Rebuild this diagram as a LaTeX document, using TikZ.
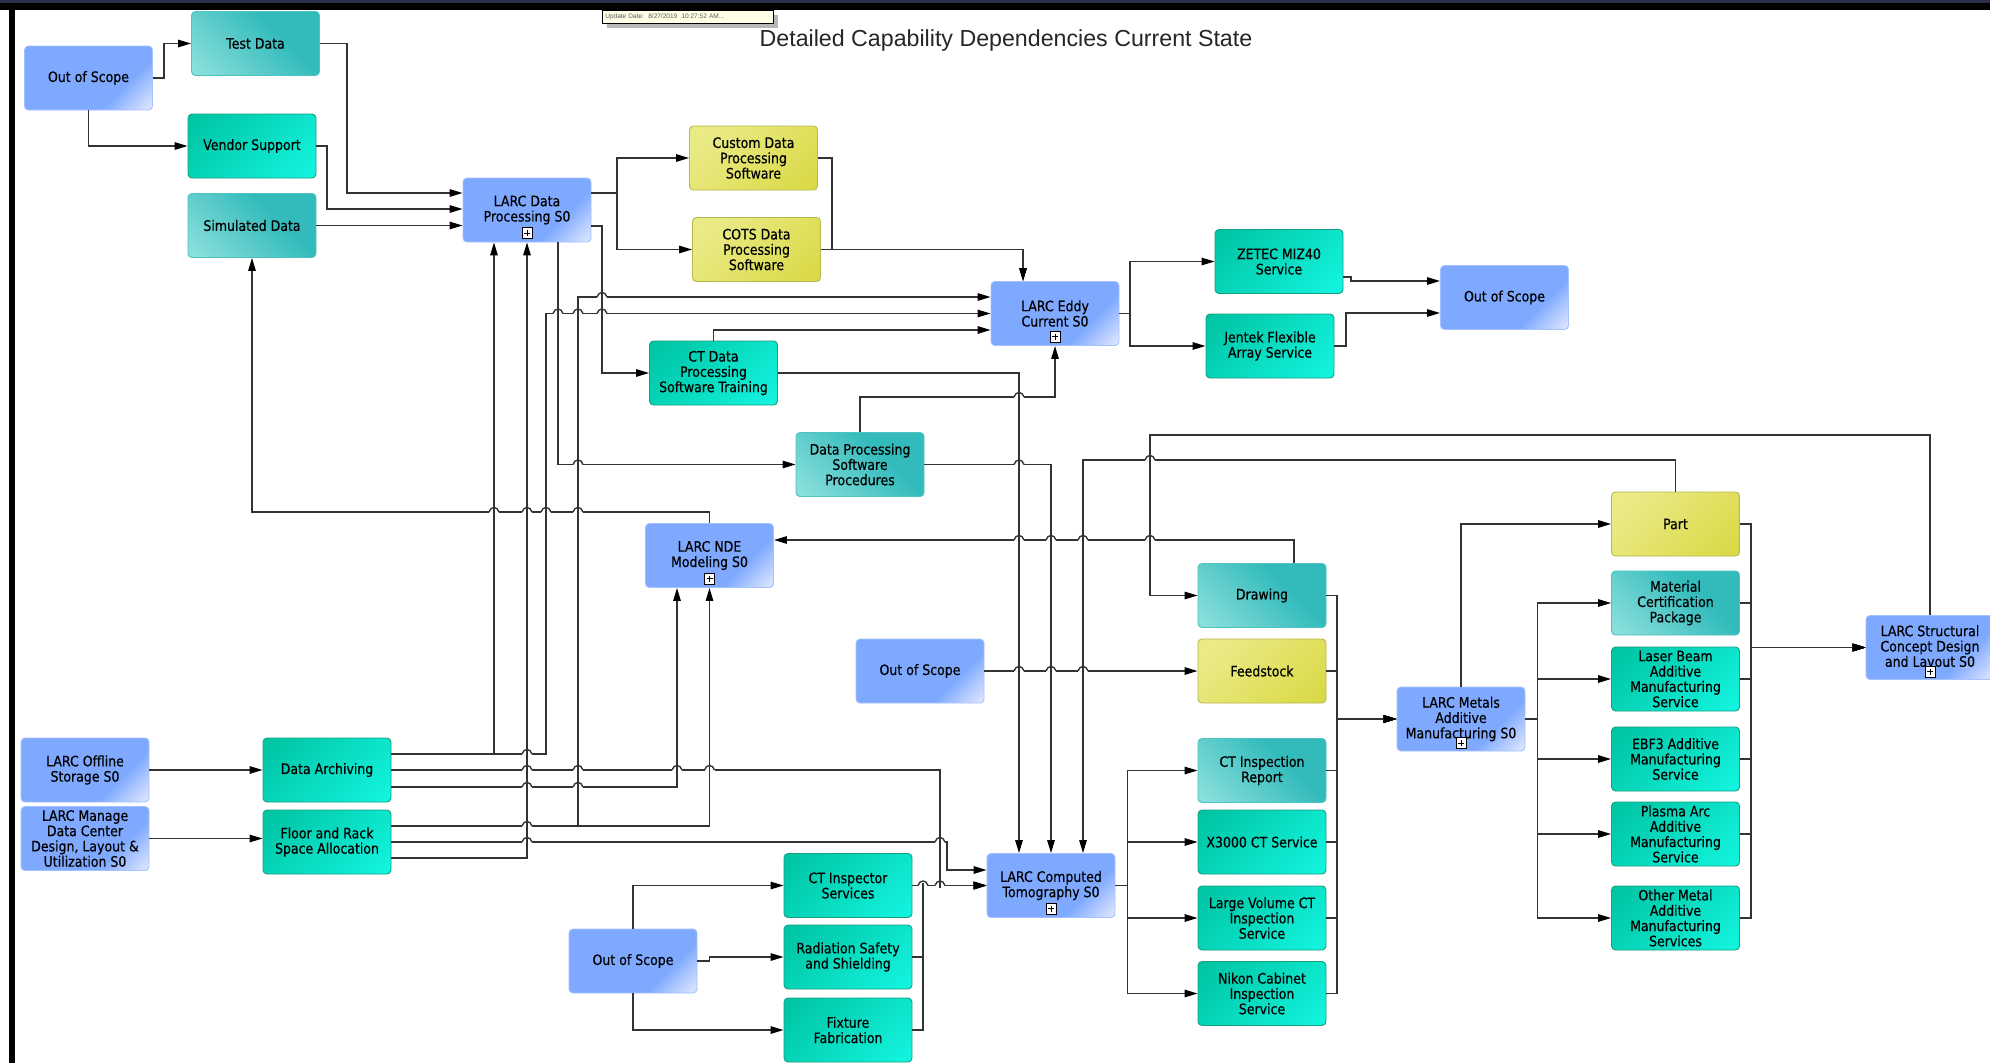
\documentclass[tikz,border=0pt]{standalone}
\usepackage{fontspec}
\setmainfont{DejaVu Sans}[FakeStretch=0.87]
\newfontfamily\boxfam{DejaVu Sans}[FakeStretch=0.87, BoldFont={DejaVu Sans}, BoldFeatures={FakeBold=0.35}]
\newfontfamily\titlefont{Liberation Sans}
\usetikzlibrary{arrows.meta}

\definecolor{linec}{HTML}{333333}
\definecolor{bluebase}{HTML}{7EA9FF}
\definecolor{bluelight}{HTML}{D8E2FF}
\definecolor{blueedge}{HTML}{A3C0FF}
\definecolor{tealDtop}{HTML}{00C6A6}
\definecolor{tealDbot}{HTML}{12F2DC}
\definecolor{tealDedge}{HTML}{17A080}
\definecolor{tealLtop}{HTML}{33BBBC}
\definecolor{tealLbot}{HTML}{8ADFDB}
\definecolor{tealLedge}{HTML}{4CC3C0}
\definecolor{yeltop}{HTML}{EAEA86}
\definecolor{yelbot}{HTML}{DADA48}
\definecolor{yeledge}{HTML}{B8B84C}
\definecolor{navybar}{HTML}{2A2F4A}
\definecolor{tipfill}{HTML}{FFFFE8}

\pgfdeclareverticalshading{bluegloss}{100bp}{color(0bp)=(bluelight); color(17bp)=(bluelight); color(34bp)=(bluebase); color(100bp)=(bluebase)}
\pgfdeclareverticalshading{tealDgloss}{100bp}{color(0bp)=(tealDbot); color(20bp)=(tealDbot); color(80bp)=(tealDtop); color(100bp)=(tealDtop)}
\pgfdeclareverticalshading{tealLgloss}{100bp}{color(0bp)=(tealLbot); color(18bp)=(tealLbot); color(62bp)=(tealLtop); color(100bp)=(tealLtop)}
\pgfdeclareverticalshading{yelgloss}{100bp}{color(0bp)=(yelbot); color(20bp)=(yelbot); color(75bp)=(yeltop); color(100bp)=(yeltop)}

\newcommand{\boxfont}{\boxfam\bfseries\fontsize{14.4}{15.3}\selectfont}
% small hop drawn where a horizontal connector passes over a vertical one
\newcommand{\linehop}[2]{%
  \fill[white] (#1-5,#2-1.7) rectangle (#1+5,#2+1.7);
  \draw[conn] (#1-5,#2) .. controls (#1-3.5,#2-6) and (#1+3.5,#2-6) .. (#1+5,#2);
  \draw[conn] (#1,#2-2.2) -- (#1,#2+2.2);
}

\tikzset{
  box/.style={rectangle, rounded corners=4pt, minimum width=128pt, minimum height=64pt,
    inner sep=2pt, align=center, font=\boxfont, line width=0.9pt, text=black},
  bluebox/.style={box, draw=blueedge, shade, shading=bluegloss, shading angle=45},
  tealD/.style={box, draw=tealDedge, shade, shading=tealDgloss, shading angle=45},
  tealL/.style={box, draw=tealLedge, shade, shading=tealLgloss, shading angle=-45},
  yelbox/.style={box, draw=yeledge, shade, shading=yelgloss, shading angle=45},
  plusicon/.style={draw=black, fill=white, minimum width=10pt, minimum height=11pt,
    inner sep=0pt, line width=0.8pt,
    path picture={\draw[line width=0.9pt]
      ([xshift=-3pt]path picture bounding box.center) -- ([xshift=3pt]path picture bounding box.center)
      ([yshift=-3pt]path picture bounding box.center) -- ([yshift=3pt]path picture bounding box.center);}},
  conn/.style={draw=linec, line width=1.4pt},
  arr/.style={conn, -{Triangle[length=13pt,width=7.5pt,color=black]}},
}

\begin{document}
\begin{tikzpicture}[x=1pt,y=-1pt]
\useasboundingbox (0,0) rectangle (1990,1063);
\fill[white] (0,0) rectangle (1990,1063);

% window frame
\fill[black] (0,0) rectangle (1990,10);
\fill[navybar] (0,0) rectangle (1990,3);
\fill[black] (9,10) rectangle (15,1063);

% update stamp
\fill[black!28] (607,15) rectangle (778,28);
\node[draw=black, fill=tipfill, line width=0.7pt, anchor=north west, minimum width=171pt,
  minimum height=13pt, inner sep=0pt, text width=165pt, align=left,
  font=\titlefont\fontsize{6.5}{7}\selectfont, text=black!65] (stamp) at (602,10)
  {Update Date:\ \ 8/27/2019\ \ 10:27:52 AM...};

% title
\node[font=\titlefont\fontsize{23.2}{26}\selectfont, text=black!85] (title) at (1006,41)
  {Detailed Capability Dependencies Current State};

% ---------- boxes ----------
\node[bluebox] (oosA) at (88.5,78) {Out of Scope};
\node[tealL] (testdata) at (255.5,43.5) {Test Data};
\node[tealD] (vendor) at (252,146) {Vendor Support};
\node[tealL] (simdata) at (252,225.5) {Simulated Data};
\node[bluebox] (dataproc) at (527,210) {LARC Data\\Processing S0};
\node[yelbox] (custom) at (753.5,158) {Custom Data\\Processing\\Software};
\node[yelbox] (cots) at (756.5,249.5) {COTS Data\\Processing\\Software};
\node[bluebox] (eddy) at (1055,313.5) {LARC Eddy\\Current S0};
\node[tealD] (zetec) at (1279,261.5) {ZETEC MIZ40\\Service};
\node[tealD] (jentek) at (1270,346) {Jentek Flexible\\Array Service};
\node[bluebox] (oosB) at (1504.5,297.5) {Out of Scope};
\node[tealD] (ctdpst) at (713.5,373) {CT Data\\Processing\\Software Training};
\node[tealL] (dpsp) at (860,464.5) {Data Processing\\Software\\Procedures};
\node[bluebox] (nde) at (709.5,555.5) {LARC NDE\\Modeling S0};
\node[bluebox] (oosC) at (920,671) {Out of Scope};
\node[bluebox] (ctomo) at (1051,885.5) {LARC Computed\\Tomography S0};
\node[tealD] (ctinsp) at (848,885.5) {CT Inspector\\Services};
\node[tealD] (radsafe) at (848,957) {Radiation Safety\\and Shielding};
\node[tealD] (fixture) at (848,1030) {Fixture\\Fabrication};
\node[bluebox] (oosD) at (633,961) {Out of Scope};
\node[bluebox] (offline) at (85,770) {LARC Offline\\Storage S0};
\node[bluebox] (managedc) at (85,838.5) {LARC Manage\\Data Center\\Design, Layout \&\\Utilization S0};
\node[tealD] (archiving) at (327,770) {Data Archiving};
\node[tealD] (floorrack) at (327,842) {Floor and Rack\\Space Allocation};
\node[tealL] (drawing) at (1262,595.5) {Drawing};
\node[yelbox] (feedstock) at (1262,671) {Feedstock};
\node[tealL] (ctreport) at (1262,770.5) {CT Inspection\\Report};
\node[tealD] (x3000) at (1262,842) {X3000 CT Service};
\node[tealD] (largevol) at (1262,918) {Large Volume CT\\Inspection\\Service};
\node[tealD] (nikon) at (1262,993.5) {Nikon Cabinet\\Inspection\\Service};
\node[bluebox] (metals) at (1461,719) {LARC Metals\\Additive\\Manufacturing S0};
\node[yelbox] (part) at (1675.5,524) {Part};
\node[tealL] (matcert) at (1675.5,603) {Material\\Certification\\Package};
\node[tealD] (laser) at (1675.5,679) {Laser Beam\\Additive\\Manufacturing\\Service};
\node[tealD] (ebf3) at (1675.5,759) {EBF3 Additive\\Manufacturing\\Service};
\node[tealD] (plasma) at (1675.5,834) {Plasma Arc\\Additive\\Manufacturing\\Service};
\node[tealD] (othermetal) at (1675.5,918) {Other Metal\\Additive\\Manufacturing\\Services};
\node[bluebox] (structural) at (1930,647.5) {LARC Structural\\Concept Design\\and Layout S0};

% expand markers
\node[plusicon] (dataprocplus) at ([yshift=-23pt]dataproc.center) {};
\node[plusicon] (eddyplus) at ([yshift=-23pt]eddy.center) {};
\node[plusicon] (ndeplus) at ([yshift=-23pt]nde.center) {};
\node[plusicon] (ctomoplus) at ([yshift=-23pt]ctomo.center) {};
\node[plusicon] (metalsplus) at ([yshift=-24pt]metals.center) {};
\node[plusicon] (structuralplus) at ([yshift=-24pt]structural.center) {};

% ---------- connectors ----------
\draw[arr] (oosA.east) -- ++(11,0) |- (testdata.west);
\draw[arr] (oosA.south) |- (vendor.west);
\draw[arr] (testdata.east) -| (347,193) -- (dataproc.west |- 0,193);
\draw[arr] (vendor.east) -| (327,209) -- (dataproc.west |- 0,209);
\draw[arr] (simdata.east) -- (dataproc.west |- simdata.east);
\draw[arr] (dataproc.east |- 0,193) -| (617,158) -- (custom.west);
\draw[arr] (dataproc.east |- 0,193) -| (617,249.5) -- (cots.west);
\draw[arr] (custom.east) -| (832,249.5) -| (eddy.north -| 1023,0);
\draw[arr] (cots.east) -| (eddy.north -| 1023,0);
\draw[arr] (dataproc.east |- 0,226) -| (602,373) -- (ctdpst.west);
\draw[arr] (dataproc.south -| 558,0) |- (dpsp.west);
\draw[arr] (archiving.east |- 0,754) -| (dataproc.south -| 494,0);
\draw[arr] (floorrack.east |- 0,858) -| (dataproc.south -| 527,0);
\draw[arr] (archiving.east |- 0,754) -| (546,313.5) -- (eddy.west);
\draw[arr] (floorrack.east |- 0,826) -| (578,297) -- (eddy.west |- 0,297);
\draw[arr] (ctdpst.north) |- (eddy.west |- 0,330);
\draw[arr] (dpsp.north) |- (1055,397) -- (eddy.south);
\draw[arr] (eddy.east) -| (1130,261.5) -- (zetec.west);
\draw[arr] (eddy.east) -| (1130,346) -- (jentek.west);
\draw[arr] (zetec.east |- 0,277) -- (1351,277) -- (1351,281) -- (oosB.west |- 0,281);
\draw[arr] (jentek.east) -| (1346,313) -- (oosB.west |- 0,313);
\draw[arr] (ctdpst.east) -| (ctomo.north -| 1019,0);
\draw[arr] (dpsp.east) -| (ctomo.north);
\draw[arr] (part.north) |- (1083,460) -- (ctomo.north -| 1083,0);
\draw[arr] (structural.north) |- (1150,435) |- (drawing.west);
\draw[arr] (drawing.north -| 1294,0) |- (nde.east |- 0,540);
\draw[arr] (nde.north) |- (252,512) -- (simdata.south);
\draw[arr] (archiving.east |- 0,787) -| (nde.south -| 677,0);
\draw[arr] (floorrack.east |- 0,826) -| (nde.south);
\draw[arr] (archiving.east) -| (940,885.5) -- (ctomo.west);
\draw[arr] (floorrack.east) -| (947,870) -- (ctomo.west |- 0,870);
\draw[arr] (offline.east) -- (archiving.west);
\draw[arr] (managedc.east) -- (floorrack.west |- managedc.east);
\draw[arr] (oosC.east) -- (feedstock.west);
\draw[arr] (oosD.north) |- (ctinsp.west);
\draw[arr] (oosD.east) -- ++(12,0) |- (radsafe.west);
\draw[arr] (oosD.south) |- (fixture.west);
\draw[arr] (ctinsp.east) -- (ctomo.west);
\draw[arr] (radsafe.east) -| (923,885.5) -- (ctomo.west);
\draw[arr] (fixture.east) -| (923,885.5) -- (ctomo.west);
\foreach \tgt in {ctreport,x3000,largevol,nikon}
  \draw[arr] (ctomo.east) -- ++(12,0) |- (\tgt.west);
\foreach \src in {drawing,feedstock,ctreport,x3000,largevol,nikon}
  \draw[arr] (\src.east) -| (1337,719) -- (metals.west);
\draw[arr] (metals.north) |- (part.west);
\foreach \tgt in {matcert,laser,ebf3,plasma,othermetal}
  \draw[arr] (metals.east) -- ++(12,0) |- (\tgt.west);
\foreach \src in {part,matcert,laser,ebf3,plasma,othermetal}
  \draw[arr] (\src.east) -| (1751,647.5) -- (structural.west);

% ---------- crossings ----------
\linehop{602}{297}
\linehop{558}{313.5} \linehop{578}{313.5} \linehop{602}{313.5}
\linehop{578}{464.5}
\linehop{494}{512} \linehop{527}{512} \linehop{546}{512} \linehop{578}{512}
\linehop{527}{754}
\linehop{527}{770} \linehop{578}{770} \linehop{677}{770} \linehop{709.5}{770}
\linehop{527}{787} \linehop{578}{787}
\linehop{527}{826}
\linehop{527}{842} \linehop{940}{842}
\linehop{1019}{397}
\linehop{1019}{464.5}
\linehop{1019}{540} \linehop{1051}{540} \linehop{1083}{540} \linehop{1150}{540}
\linehop{1019}{671} \linehop{1051}{671} \linehop{1083}{671}
\linehop{1150}{460}
\linehop{923}{885.5} \linehop{940}{885.5}
\end{tikzpicture}
\end{document}
